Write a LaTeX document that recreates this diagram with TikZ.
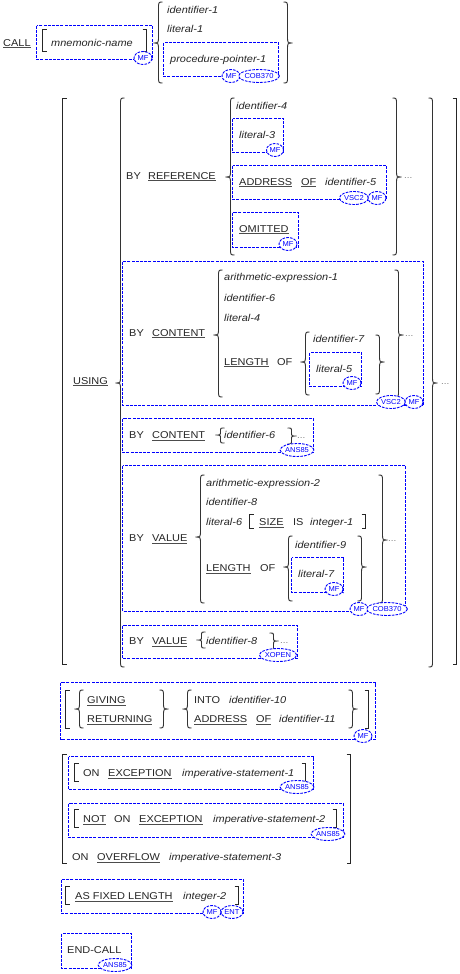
\documentclass[tikz,border=0pt]{standalone}
\usepackage{fontspec}
\setmainfont{Liberation Sans}[FakeStretch=1.1]
\newfontfamily\tagfont{Liberation Sans}[FakeStretch=1.05]
\usetikzlibrary{shapes.geometric}
\definecolor{dblue}{RGB}{0,0,255}
\newcommand\ul[1]{\setbox0\hbox{#1}\rlap{\color{black!70}\rule[-2.4pt]{\wd0}{0.9pt}}\box0}
\newcommand\iv[1]{\textit{#1}}
\tikzset{
 txt/.style={anchor=base west, inner sep=0pt, font=\fontsize{10}{12}\selectfont, text=black!85},
 dotsty/.style={anchor=base west, inner sep=0pt, font=\fontsize{9}{12}\selectfont, text=black!50},
 dbox/.style={draw=dblue, line width=1bp, dash pattern=on 3bp off 1.2bp, xshift=0.5bp, yshift=-0.5bp},
 tag/.style={ellipse, draw=dblue, line width=0.9bp, dash pattern=on 2.6bp off 1.2bp, fill=white, text=dblue, font=\tagfont\fontsize{7.2}{8}\selectfont, inner sep=0pt, minimum height=13bp},
 brc/.style={draw=black!80, line width=0.9bp, xshift=0.5bp},
 brk/.style={draw=black!85, line width=1bp, xshift=0.5bp, yshift=-0.5bp},
}
\newcommand\T[4]{\node[txt] (#1) at ({#2},{#3+4}) {#4};}
\newcommand\D[3]{\node[dotsty] (#1) at ({#2},{#3+1.5}) {...};}
\newcommand\Br[5]{%
 \pgfmathsetmacro\bcA{min(7,(#3-#2)/2.2)}%
 \pgfmathsetmacro\bcB{min(7,(#4-#3)/2.2)}%
 \draw[brc] ({#1-(#5)*4},{#2}) .. controls ({#1},{#2}) .. ({#1},{#2+\bcA}) -- ({#1},{#3-\bcA}) .. controls ({#1},{#3}) .. ({#1+(#5)*5},{#3}) .. controls ({#1},{#3}) .. ({#1},{#3+\bcB}) -- ({#1},{#4-\bcB}) .. controls ({#1},{#4}) .. ({#1-(#5)*4},{#4});}
\newcommand\Sq[4]{\draw[brk] ({#1+(#4)*4},{#2}) -- ({#1},{#2}) -- ({#1},{#3}) -- ({#1+(#4)*4},{#3});}
\begin{document}
\begin{tikzpicture}[x=1bp,y=-1bp]
\useasboundingbox[fill=white] (0,0) rectangle (460,974);
% dashed boxes
\draw[dbox] (36,25) rectangle (152,59);
\draw[dbox] (163,42) rectangle (278,76);
\draw[dbox] (232,118) rectangle (283,152);
\draw[dbox] (232,165) rectangle (386,199);
\draw[dbox] (232,212) rectangle (298,247);
\draw[dbox] (122,261) rectangle (423,405);
\draw[dbox] (309,352) rectangle (361,386);
\draw[dbox] (122,418) rectangle (313,452);
\draw[dbox] (122,465) rectangle (405,611);
\draw[dbox] (291,557) rectangle (343,592);
\draw[dbox] (122,625) rectangle (297,658);
\draw[dbox] (60,682) rectangle (375,739);
\draw[dbox] (68,756) rectangle (313,789);
\draw[dbox] (68,803) rectangle (343,837);
\draw[dbox] (61,879) rectangle (243,913);
\draw[dbox] (61,933) rectangle (131,968);
% braces
\Br{158}{2}{43}{83}{-1}
\Br{287}{2}{43}{83}{1}
\Br{120}{98}{383}{667}{-1}
\Br{432}{98}{383}{667}{1}
\Br{230}{98}{177}{255}{-1}
\Br{396}{98}{177}{255}{1}
\Br{218}{270}{335}{397}{-1}
\Br{398}{270}{335}{397}{1}
\Br{305}{332}{362}{395}{-1}
\Br{379}{335}{362}{394}{1}
\Br{220}{428}{435}{443}{-1}
\Br{291}{428}{436}{444}{1}
\Br{200}{475}{537}{603}{-1}
\Br{382}{475}{540}{603}{1}
\Br{288}{536}{567}{601}{-1}
\Br{361}{536}{567}{601}{1}
\Br{201}{632}{640}{648}{-1}
\Br{273}{633}{641}{650}{1}
\Br{79}{690}{709}{728}{-1}
\Br{163}{690}{709}{728}{1}
\Br{187}{690}{709}{728}{-1}
\Br{352}{690}{709}{728}{1}
% square brackets
\Sq{42}{29}{51}{1} \Sq{146}{29}{51}{-1}
\Sq{62}{98}{664}{1} \Sq{456}{98}{664}{-1}
\Sq{249}{514}{528}{1} \Sq{365}{514}{528}{-1}
\Sq{65}{690}{728}{1} \Sq{368}{690}{728}{-1}
\Sq{62}{754}{863}{1} \Sq{350}{754}{863}{-1}
\Sq{74}{763}{781}{1} \Sq{305}{763}{781}{-1}
\Sq{74}{809}{827}{1} \Sq{336}{809}{827}{-1}
\Sq{65}{886}{904}{1} \Sq{238}{886}{904}{-1}
% texts
\T{call}{3}{42}{\ul{CALL}}
\T{mn}{51}{42}{\iv{mnemonic-name}}
\T{id1}{167}{9}{\iv{identifier-1}}
\T{lit1}{167}{28}{\iv{literal-1}}
\T{pp1}{170}{58}{\iv{procedure-pointer-1}}
\T{using}{73}{380}{\ul{USING}}
\T{by1}{126}{175}{BY}
\T{ref}{148}{175}{\ul{REFERENCE}}
\T{id4}{236}{105}{\iv{identifier-4}}
\T{lit3}{239}{134}{\iv{literal-3}}
\T{addr1}{239}{181}{\ul{ADDRESS}}
\T{of1}{301}{181}{\ul{OF}}
\T{id5}{325}{181}{\iv{identifier-5}}
\T{omit}{239}{228}{\ul{OMITTED}}
\D{dots1}{404}{177}
\T{by2}{129}{332}{BY}
\T{cont1}{152}{332}{\ul{CONTENT}}
\T{ae1}{224}{276}{\iv{arithmetic-expression-1}}
\T{id6}{224}{297}{\iv{identifier-6}}
\T{lit4}{224}{317}{\iv{literal-4}}
\T{len1}{224}{361}{\ul{LENGTH}}
\T{of2}{277}{361}{OF}
\T{id7}{313}{338}{\iv{identifier-7}}
\T{lit5}{316}{368}{\iv{literal-5}}
\D{dots2}{405}{335}
\D{dots3}{441}{383}
\T{by3}{129}{434}{BY}
\T{cont2}{152}{434}{\ul{CONTENT}}
\T{id6b}{224}{434}{\iv{identifier-6}}
\D{dots4}{297}{437}
\T{by4}{129}{537}{BY}
\T{val1}{152}{537}{\ul{VALUE}}
\T{ae2}{206}{482}{\iv{arithmetic-expression-2}}
\T{id8}{206}{501}{\iv{identifier-8}}
\T{lit6}{206}{521}{\iv{literal-6}}
\T{size}{259}{521}{\ul{SIZE}}
\T{is}{293}{521}{IS}
\T{int1}{310}{521}{\iv{integer-1}}
\T{len2}{206}{567}{\ul{LENGTH}}
\T{of3}{260}{567}{OF}
\T{id9}{295}{544}{\iv{identifier-9}}
\T{lit7}{298}{573}{\iv{literal-7}}
\D{dots5}{388}{540}
\T{by5}{129}{640}{BY}
\T{val2}{152}{640}{\ul{VALUE}}
\T{id8b}{206}{640}{\iv{identifier-8}}
\D{dots6}{280}{642}
\T{giv}{87}{699}{\ul{GIVING}}
\T{ret}{87}{718}{\ul{RETURNING}}
\T{into}{194}{699}{INTO}
\T{id10}{229}{699}{\iv{identifier-10}}
\T{addr2}{194}{718}{\ul{ADDRESS}}
\T{of4}{256}{718}{\ul{OF}}
\T{id11}{279}{718}{\iv{identifier-11}}
\T{on1}{83}{772}{ON}
\T{exc1}{108}{772}{\ul{EXCEPTION}}
\T{is1}{182}{772}{\iv{imperative-statement-1}}
\T{not}{83}{818}{\ul{NOT}}
\T{on2}{114}{818}{ON}
\T{exc2}{139}{818}{\ul{EXCEPTION}}
\T{is2}{213}{818}{\iv{imperative-statement-2}}
\T{on3}{72}{856}{ON}
\T{ovf}{97}{856}{\ul{OVERFLOW}}
\T{is3}{169}{856}{\iv{imperative-statement-3}}
\T{afl}{75}{895}{\ul{AS FIXED LENGTH}}
\T{int2}{183}{895}{\iv{integer-2}}
\T{endc}{67}{949}{END-CALL}
% tags
\node[tag, minimum width=18bp] (g1) at (143,58) {MF};
\node[tag, minimum width=18bp] (g2) at (231,76) {MF};
\node[tag, minimum width=37bp] (g3) at (259,76) {COB370};
\node[tag, minimum width=17bp] (g4) at (275,150) {MF};
\node[tag, minimum width=29bp] (g5) at (354,198) {VSC2};
\node[tag, minimum width=18bp] (g6) at (377,198) {MF};
\node[tag, minimum width=18bp] (g7) at (288,244) {MF};
\node[tag, minimum width=29bp] (g8) at (391,402) {VSC2};
\node[tag, minimum width=18bp] (g9) at (414,402) {MF};
\node[tag, minimum width=18bp] (g10) at (352,383) {MF};
\node[tag, minimum width=33bp] (g11) at (297,450) {ANS85};
\node[tag, minimum width=18bp] (g12) at (359,609) {MF};
\node[tag, minimum width=37bp] (g13) at (387,609) {COB370};
\node[tag, minimum width=18bp] (g14) at (334,589) {MF};
\node[tag, minimum width=33bp] (g15) at (278,655) {XOPEN};
\node[tag, minimum width=18bp] (g16) at (363,736) {MF};
\node[tag, minimum width=33bp] (g17) at (297,787) {ANS85};
\node[tag, minimum width=33bp] (g18) at (328,834) {ANS85};
\node[tag, minimum width=18bp] (g19) at (212,912) {MF};
\node[tag, minimum width=22bp] (g20) at (232,912) {ENT};
\node[tag, minimum width=33bp] (g21) at (115,965) {ANS85};
\end{tikzpicture}
\end{document}
